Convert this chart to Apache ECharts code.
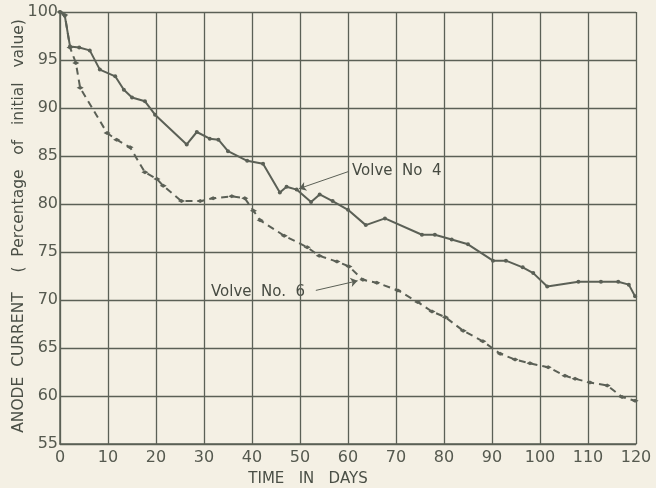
<!DOCTYPE html>
<html><head><meta charset="utf-8">
<script src="https://cdn.jsdelivr.net/npm/echarts@6/dist/echarts.min.js"></script>
<style>html,body{margin:0;padding:0;background:#f4f0e4}#c{width:656px;height:488px}</style>
</head><body><div id="c"></div>
<script>
const xTicks = [0,10,20,30,40,50,60,70,80,90,100,110,120];
const yTicks = [55,60,65,70,75,80,85,90,95,100];
const valve4Days = [0,1,2.1,4,6.2,8.3,11.5,13.3,15,17.7,19.8,26.4,28.5,31.2,33,35,39,42.3,45.8,47.2,49.3,52.3,54.1,56.8,60,63.7,67.7,75.4,78.1,81.6,85,90.2,92.9,96.4,98.6,101.5,108,112.7,116.3,118.5,119.8];
const valve4Vals = [100,99.6,96.4,96.3,96,94,93.3,91.9,91.1,90.7,89.3,86.2,87.5,86.8,86.7,85.5,84.5,84.2,81.2,81.8,81.5,80.2,81,80.3,79.4,77.8,78.5,76.8,76.8,76.3,75.8,74.1,74.1,73.4,72.8,71.4,71.9,71.9,71.9,71.6,70.4];
const valve6Days = [0,1,2.1,3.3,4.2,9.8,11.8,14.6,17.7,20.2,21.5,25.3,29.2,31.9,35.8,38.5,40.3,41.7,46.7,51.5,54,57.7,60.2,63.1,66,70.4,74.5,77.5,80.3,84,88.1,91.7,94.8,97.9,101.7,105.2,107.3,110.4,114,117.1,119.8];
const valve6Vals = [100,99.7,96.3,94.7,92.1,87.4,86.7,85.9,83.3,82.6,81.9,80.3,80.3,80.6,80.8,80.6,79.3,78.3,76.7,75.5,74.6,74,73.5,72.1,71.8,71,69.8,68.8,68.2,66.8,65.7,64.4,63.8,63.4,63,62.1,61.8,61.4,61.1,59.9,59.5];
const label4 = 'Volve  No  4';
const label6 = 'Volve  No.  6';
const yTitle = 'ANODE  CURRENT    (  Percentage   of   initial   value)';
const xTitle = 'TIME   IN   DAYS';

const ink = '#5b6056';
const bg = '#f4f0e4';
const chart = echarts.init(document.getElementById('c'));
const zip = (a,b)=>a.map((x,i)=>[x,b[i]]);
chart.setOption({
  backgroundColor: bg,
  animation: false,
  grid: {left: 60, right: 20, top: 12, bottom: 44, containLabel: false, outerBoundsMode: 'none'},
  xAxis: {
    type: 'value', min: 0, max: 120, interval: 10,
    name: xTitle, nameLocation: 'middle', nameGap: 28, nameMoveOverlap: false,
    nameTextStyle: {color: '#4a4f46', fontSize: 15, fontFamily: 'DejaVu Sans', padding: [0, 80, 0, 0]},
    axisLine: {show: true, lineStyle: {color: ink, width: 1.5}},
    axisTick: {show: false},
    axisLabel: {color: '#55594f', fontSize: 16, fontFamily: 'DejaVu Sans', margin: 6, formatter: v => xTicks.includes(v) ? String(v) : ''},
    splitLine: {show: true, lineStyle: {color: ink, width: 1.3}}
  },
  yAxis: {
    type: 'value', min: 55, max: 100, interval: 5,
    axisLine: {show: true, lineStyle: {color: ink, width: 1.5}},
    axisTick: {show: false},
    axisLabel: {color: '#55594f', fontSize: 16, fontFamily: 'DejaVu Sans', margin: 2, formatter: v => yTicks.includes(v) ? String(v) : ''},
    splitLine: {show: true, lineStyle: {color: ink, width: 1.3}}
  },
  series: [
    {
      name: label4, type: 'line', data: zip(valve4Days, valve4Vals),
      lineStyle: {color: ink, width: 2}, itemStyle: {color: ink},
      symbol: 'circle', symbolSize: 4, showAllSymbol: true,
      markLine: {
        silent: true, symbol: ['none','arrow'], symbolSize: 7,
        lineStyle: {color: ink, width: 1, type: 'solid'},
        label: {show: false},
        data: [[{coord: [60.2, 83.4]}, {coord: [49.8, 81.6]}]]
      }
    },
    {
      name: label6, type: 'line', data: zip(valve6Days, valve6Vals),
      lineStyle: {color: ink, width: 2, type: [7, 5]}, itemStyle: {color: ink},
      symbol: 'diamond', symbolSize: [7,4], showAllSymbol: true,
      markLine: {
        silent: true, symbol: ['none','arrow'], symbolSize: 7,
        lineStyle: {color: ink, width: 1, type: 'solid'},
        label: {show: false},
        data: [[{coord: [53.3, 71.0]}, {coord: [62.0, 72.0]}]]
      }
    }
  ],
  graphic: [
    {type: 'text', x: 19, y: 226, rotation: Math.PI / 2, style: {text: yTitle, fill: '#4a4f46', font: '15.5px "DejaVu Sans"', align: 'center', verticalAlign: 'middle'}},
    {type: 'text', left: 350, top: 163, style: {text: label4, fill: '#474b42', font: '15px "DejaVu Sans"', backgroundColor: bg, padding: [1,2]}},
    {type: 'text', left: 209, top: 284, style: {text: label6, fill: '#474b42', font: '15px "DejaVu Sans"', backgroundColor: bg, padding: [1,2]}}
  ]
});
</script></body></html>
